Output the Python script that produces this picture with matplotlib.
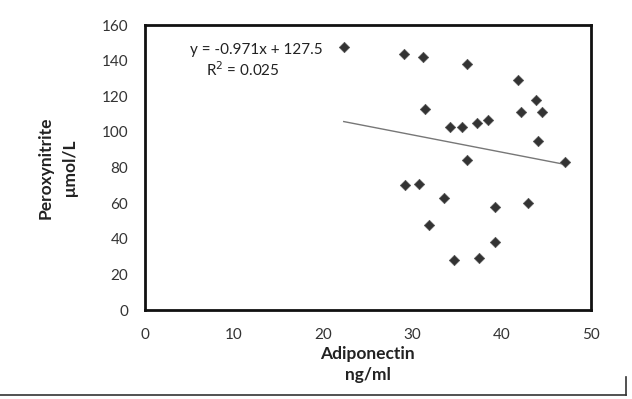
import numpy as np
import matplotlib.pyplot as plt
from matplotlib.lines import Line2D

# Adiponectin (ng/ml) vs Peroxynitrite (umol/L)
adiponectin = [22.3, 29.1, 31.2, 36.1, 31.4, 41.8, 43.9, 42.2, 44.5, 34.2, 35.5,
               37.2, 38.5, 44.1, 36.1, 47.1, 29.2, 30.7, 33.5, 39.2, 43.0,
               31.9, 39.3, 34.7, 37.5]
peroxynitrite = [148, 144, 142, 138, 113, 129, 118, 111, 111, 103, 103,
                 105, 107, 95, 84, 83, 70, 71, 63, 58, 60,
                 48, 38, 28, 29]
slope, intercept = -0.971, 127.5
x_ticks = [0, 10, 20, 30, 40, 50]
y_ticks = [0, 20, 40, 60, 80, 100, 120, 140, 160]

plt.rcParams['font.family'] = ['Lato', 'DejaVu Sans']

fig = plt.figure(figsize=(6.32, 3.99), dpi=100)
ax = fig.add_axes([0.229, 0.223, 0.706, 0.714])

ax.scatter(adiponectin, peroxynitrite, marker='D', s=28, color='#333333',
           edgecolors='#555555', linewidths=0.5, zorder=3)

# linear trendline
xs = np.array([min(adiponectin), max(adiponectin)])
ax.plot(xs, slope * xs + intercept, color='#777777', lw=1.0, zorder=2)

ax.text(0.25, 0.912, "y = -0.971x + 127.5", transform=ax.transAxes,
        ha='center', va='center', fontsize=11, color='#222222')
ax.text(0.22, 0.842, "R$^2$ = 0.025", transform=ax.transAxes,
        ha='center', va='center', fontsize=11, color='#222222')

ax.set_xlim(0, 50)
ax.set_ylim(0, 160)
ax.set_xticks(x_ticks)
ax.set_yticks(y_ticks)
ax.tick_params(length=0, labelsize=11, colors='#333333')
ax.tick_params(axis='x', pad=13)
ax.tick_params(axis='y', pad=12)
for sp in ax.spines.values():
    sp.set_linewidth(2)
    sp.set_color('#111111')

ax.set_xlabel("Adiponectin\nng/ml", fontsize=12.5, fontweight='bold',
              color='#222222', labelpad=3, linespacing=1.35)
ax.set_ylabel("Peroxynitrite\nμmol/L", fontsize=12.5, fontweight='bold',
              color='#222222', labelpad=17, linespacing=1.6)

# chart-area frame remnants (bottom line and right bracket)
fig.add_artist(Line2D([0.0, 0.99], [0.01, 0.01], color='#333333', lw=1.2))
fig.add_artist(Line2D([0.99, 0.99], [0.01, 0.055], color='#333333', lw=1.2))

fig.savefig("out.png", dpi=100)
